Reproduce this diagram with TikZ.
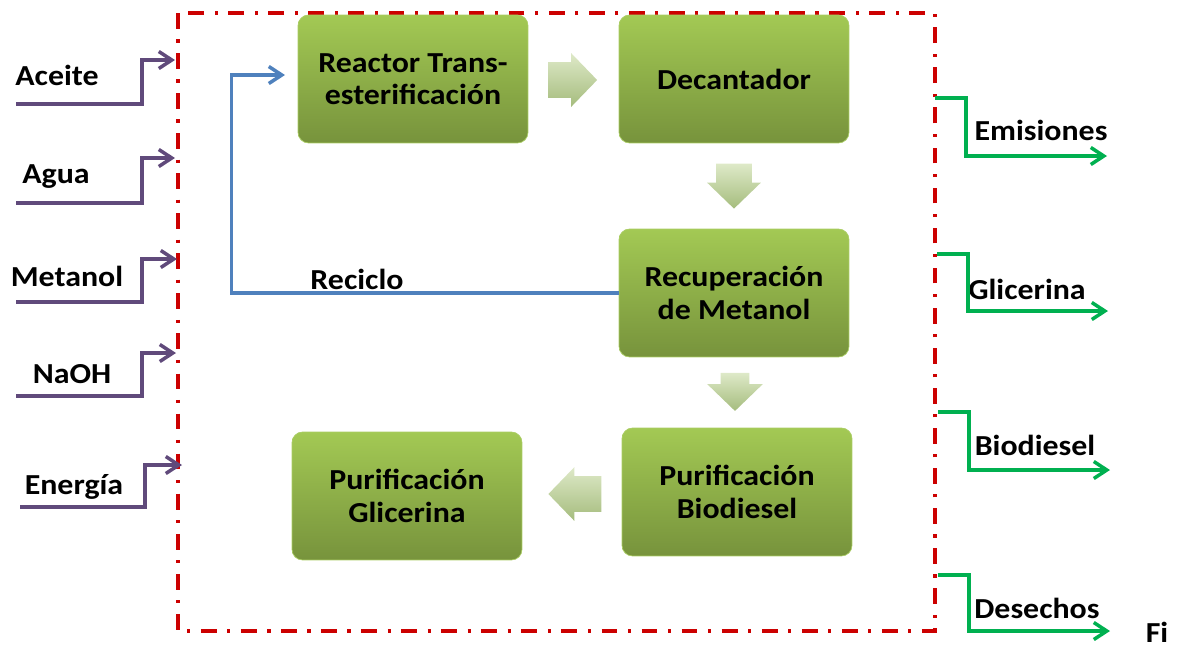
\documentclass[tikz,border=0pt]{standalone}
\usepackage{fontspec}
\setmainfont{Carlito}[FakeStretch=1.1]
\usetikzlibrary{arrows.meta, shapes.arrows, positioning}
\definecolor{boxtop}{RGB}{163, 201, 84}
\definecolor{boxbot}{RGB}{119, 147, 60}
\definecolor{boxedge}{RGB}{170, 205, 100}
\definecolor{arrowlight}{RGB}{222, 233, 200}
\definecolor{arrowdark}{RGB}{165, 188, 125}
\definecolor{inpurple}{RGB}{96, 74, 123}
\definecolor{outgreen}{RGB}{0, 176, 80}
\definecolor{recblue}{RGB}{79, 129, 189}
\definecolor{sysred}{RGB}{204, 0, 0}
\newcommand{\diagfont}{\fontsize{16.5pt}{18.5pt}\selectfont\bfseries}
\tikzset{
    procbox/.style={rectangle, rounded corners=6pt, draw=boxedge, top color=boxtop, bottom color=boxbot,
                    minimum width=4.6cm, minimum height=2.56cm, align=center, font=\diagfont, inner sep=2pt},
    flowarrow/.style={single arrow, inner xsep=0pt, inner ysep=0.35cm, draw=none, top color=arrowlight,
                      bottom color=arrowdark, single arrow head extend=0.18cm, single arrow tip angle=92},
    downarrow/.style={flowarrow, inner xsep=0.35cm, inner ysep=0pt, shape border rotate=270},
    flowlabel/.style={font=\diagfont, inner sep=0pt},
    inarrow/.style={-{Straight Barb[length=2.6mm, width=3.4mm]}, line width=2pt, inpurple},
    outarrow/.style={-{Straight Barb[length=2.6mm, width=3.4mm]}, line width=2pt, outgreen},
    recarrow/.style={-{Straight Barb[length=2.6mm, width=3.4mm]}, line width=2pt, recblue},
    sysborder/.style={draw=sysred, line width=2pt, dash pattern=on 9pt off 6pt on 1.8pt off 6pt},
}
\begin{document}
\begin{tikzpicture}[x=0.02cm, y=-0.02cm]
    \useasboundingbox (0,0) rectangle (1180,650);
    % system boundary
    \draw[sysborder] (178,13) rectangle (935,631);

    % process steps
    \node[procbox] (reactor) at (413,79) {Reactor Trans-\\esterificación};
    \node[procbox] (decant) at (734,79) {Decantador};
    \node[procbox] (recup) at (734,293) {Recuperación\\de Metanol};
    \node[procbox] (purbio) at (737,492) {Purificación\\Biodiesel};
    \node[procbox] (purgli) at (407,496) {Purificación\\Glicerina};

    \node[flowarrow, minimum height=0.98cm] (step1) at (564,80) {};
    \node[downarrow, minimum height=0.9cm] (step2) at (734,177.5) {};
    \node[downarrow, minimum height=0.76cm, inner xsep=0.28cm, single arrow head extend=0.27cm] (step3) at (735,385) {};
    \node[flowarrow, minimum height=1.06cm, shape border rotate=180] (step4) at (583.5,494) {};

    % inputs
    \coordinate (aceite-in) at (16,104);
    \coordinate (aceite-out) at (175,60);
    \node[flowlabel] (aceite) at (57,75) {Aceite};
    \draw[inarrow] (aceite-in) -- ++(126,0) |- (aceite-out);

    \coordinate (agua-in) at (16,203);
    \coordinate (agua-out) at (175,158);
    \node[flowlabel] (agua) at (56,177) {Agua};
    \draw[inarrow] (agua-in) -- ++(126,0) |- (agua-out);

    \coordinate (metanol-in) at (16,302);
    \coordinate (metanol-out) at (177,259);
    \node[flowlabel] (metanol) at (67,276) {Metanol};
    \draw[inarrow] (metanol-in) -- ++(126,0) |- (metanol-out);

    \coordinate (naoh-in) at (16,396);
    \coordinate (naoh-out) at (176,353);
    \node[flowlabel] (naoh) at (72,374) {NaOH};
    \draw[inarrow] (naoh-in) -- ++(126,0) |- (naoh-out);

    \coordinate (energia-in) at (20,507);
    \coordinate (energia-out) at (182,465);
    \node[flowlabel] (energia) at (74,487) {Energía};
    \draw[inarrow] (energia-in) -- ++(125,0) |- (energia-out);

    % outputs
    \coordinate (emis-in) at (935,98);
    \coordinate (emis-out) at (1107,156);
    \node[flowlabel] (emis) at (1041,130) {Emisiones};
    \draw[outarrow] (emis-in) -- ++(31,0) |- (emis-out);

    \coordinate (glic-in) at (937,254);
    \coordinate (glic-out) at (1108,311);
    \node[flowlabel] (glic) at (1027,289) {Glicerina};
    \draw[outarrow] (glic-in) -- ++(31,0) |- (glic-out);

    \coordinate (bio-in) at (938,412);
    \coordinate (bio-out) at (1110,470);
    \node[flowlabel] (bio) at (1035,445) {Biodiesel};
    \draw[outarrow] (bio-in) -- ++(31,0) |- (bio-out);

    \coordinate (des-in) at (938,575);
    \coordinate (des-out) at (1110,631);
    \node[flowlabel] (des) at (1037,608) {Desechos};
    \draw[outarrow] (des-in) -- ++(31,0) |- (des-out);

    \node[flowlabel] (fig) at (1157,632) {Fi};

    % recycle
    \coordinate (rec-in) at (285,75);
    \node[flowlabel] (reciclo) at (357,279) {Reciclo};
    \draw[recarrow] (recup.west) -- ++(-387,0) |- (rec-in);
\end{tikzpicture}
\end{document}
